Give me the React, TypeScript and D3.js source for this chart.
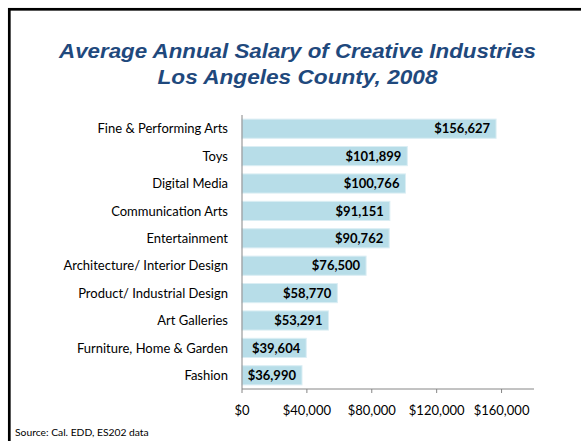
import React from "react";
import * as d3 from "d3";

const categories = [
  "Fine & Performing Arts",
  "Toys",
  "Digital Media",
  "Communication Arts",
  "Entertainment",
  "Architecture/ Interior Design",
  "Product/ Industrial Design",
  "Art Galleries",
  "Furniture, Home & Garden",
  "Fashion",
];
const salaries = [156627, 101899, 100766, 91151, 90762, 76500, 58770, 53291, 39604, 36990];
const xTicks = [0, 40000, 80000, 120000, 160000];
const titleLines = ["Average Annual Salary of Creative Industries", "Los Angeles County, 2008"];
const titleWidths = [477, 280];
const sourceText = "Source: Cal. EDD, ES202 data";

export default function App() {
  const W = 581;
  const H = 441;
  const left = 242;
  const right = 534;
  const top = 115;
  const bottom = 389;

  const x = d3.scaleLinear().domain([0, 180000]).range([left, right]);
  const y = d3.scaleBand<string>().domain(categories).range([top, bottom]).paddingInner(0.3).paddingOuter(0.15);
  const fmt = d3.format("$,.0f");
  const labelFont = "Lato, 'Open Sans', sans-serif";

  return (
    <svg width={W} height={H} style={{ position: "absolute", left: 0, top: 0, background: "#fff" }}>
      <rect x={9.3} y={9.3} width={700} height={600} fill="#fff" stroke="#000" strokeWidth={2.7} />
      {titleLines.map((t, i) => (
        <text
          key={i}
          x={297.5}
          y={57.5 + i * 26}
          textAnchor="middle"
          fontFamily="Arial, 'Liberation Sans', sans-serif"
          fontStyle="italic"
          fontWeight="bold"
          fontSize={21}
          fill="#1f497d"
          textLength={titleWidths[i]}
          lengthAdjust="spacingAndGlyphs"
        >
          {t}
        </text>
      ))}
      {categories.map((c, i) => (
        <g key={c}>
          <rect
            x={x(0)}
            y={y(c)!}
            width={x(salaries[i]) - x(0)}
            height={y.bandwidth()}
            fill="#b7dde8"
            stroke="#dbeef4"
            strokeWidth={1}
          />
          <text
            x={x(salaries[i]) - 6}
            y={y(c)! + y.bandwidth() / 2}
            dy="0.36em"
            textAnchor="end"
            fontFamily={labelFont}
            fontWeight="bold"
            fontSize={13}
            fill="#000"
          >
            {fmt(salaries[i])}
          </text>
          <text
            x={228}
            y={y(c)! + y.bandwidth() / 2}
            dy="0.36em"
            textAnchor="end"
            fontFamily={labelFont}
            fontSize={13}
            fill="#000"
          >
            {c}
          </text>
        </g>
      ))}
      <line x1={x(0)} x2={x(0)} y1={top} y2={bottom} stroke="#868686" strokeWidth={1} />
      <line x1={x(0)} x2={right} y1={bottom} y2={bottom} stroke="#868686" strokeWidth={1} />
      {xTicks.map((t) => (
        <g key={t}>
          <line x1={x(t)} x2={x(t)} y1={bottom} y2={bottom + 4} stroke="#868686" strokeWidth={1} />
          <text
            x={x(t)}
            y={410.5}
            dy="0.36em"
            textAnchor="middle"
            fontFamily={labelFont}
            fontSize={13}
            fill="#000"
          >
            {fmt(t)}
          </text>
        </g>
      ))}
      <text x={15} y={436} fontFamily={labelFont} fontSize={10.3} fill="#000">
        {sourceText}
      </text>
    </svg>
  );
}
